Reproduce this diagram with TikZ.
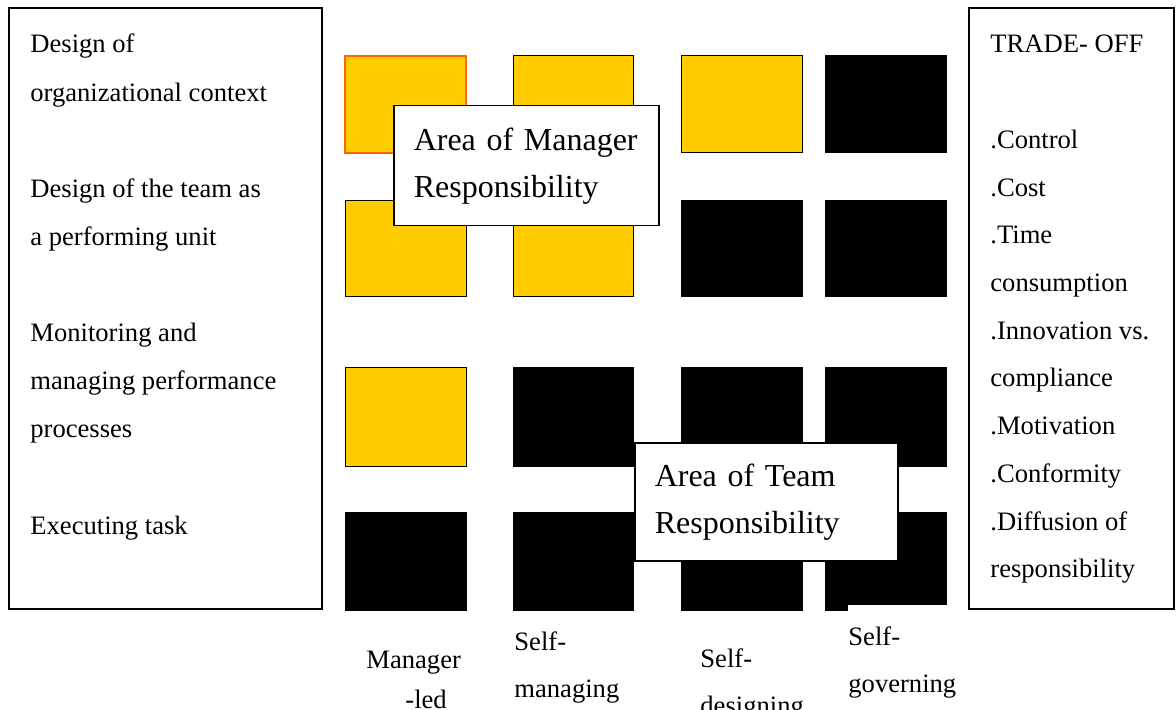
\documentclass[tikz,border=0pt]{standalone}
\usepackage{fontspec}
\setmainfont{Liberation Serif}
\definecolor{cellyellow}{HTML}{FFCC00}
\definecolor{cellorange}{HTML}{FF6600}
\tikzset{
	txt/.style={anchor=base west,inner sep=0pt,font=\fontsize{13.3}{23.9}\selectfont},
	typ/.style={txt,text width=60pt,align=left},
	areabox/.style={draw,fill=white,line width=0.75pt,anchor=north west,align=left,inner xsep=10pt,inner ysep=0pt,font=\fontsize{16}{23.5}\selectfont},
	frame/.style={line width=0.75pt}
}
\begin{document}
\begin{tikzpicture}[x=0.5pt,y=-0.5pt]
	\useasboundingbox (0,0) rectangle (1176,710);
	% activities and trade-offs
	\foreach \n/\t in {0/Design of,1/organizational context,3/Design of the team as,4/a performing unit,6/Monitoring and,7/managing performance,8/processes,10/Executing task}
		\node[txt] (lt\n) at (30,53+48.1*\n) {\t};
	\foreach \n/\t in {0/TRADE- OFF,2/.Control,3/.Cost,4/.Time,5/consumption,6/.Innovation vs.,7/compliance,8/.Motivation,9/.Conformity,10/.Diffusion of,11/responsibility}
		\node[txt] (rt\n) at (990,53+47.7*\n) {\t};
	% grid of cells
	\foreach \r/\ya/\yb in {1/56/153,2/201/297,3/368/466,4/512/610}
		\foreach \c/\xa/\xb in {1/345/466,2/513/633,3/681/802,4/825/946}{
			\ifnum\numexpr\c+\r\relax<5 \def\cellfill{cellyellow}\else\def\cellfill{black}\fi
			\filldraw[fill=\cellfill,draw=black,line width=0.5pt] (\xa,\ya) rectangle (\xb,\yb);
		}
	\draw[cellorange,line width=0.75pt] (345,56) rectangle (466,153);
	\node[areabox,minimum width=132.5pt,minimum height=60pt,text width=112.5pt] (mgr) at (393,105) {Area of Manager\\Responsibility};
	\node[areabox,minimum width=131.5pt,minimum height=59pt,text width=111.5pt] (team) at (634,442) {Area of Team\\Responsibility};
	% team types
	\node[typ] (led) at (366,668) {Manager\\[-3.9pt]\hspace*{19.5pt}-led};
	\node[typ] (smanage) at (514,650) {Self-\\managing};
	\node[typ] (sdesign) at (700,667) {Self-\\designing};
	\node[typ,fill=white,inner ysep=10.5pt] (sgovern) at (848,645) {Self-\\governing};
	\draw[frame] (9,8) rectangle (322,609);
	\draw[frame] (969,8) rectangle (1174,609);
\end{tikzpicture}
\end{document}
